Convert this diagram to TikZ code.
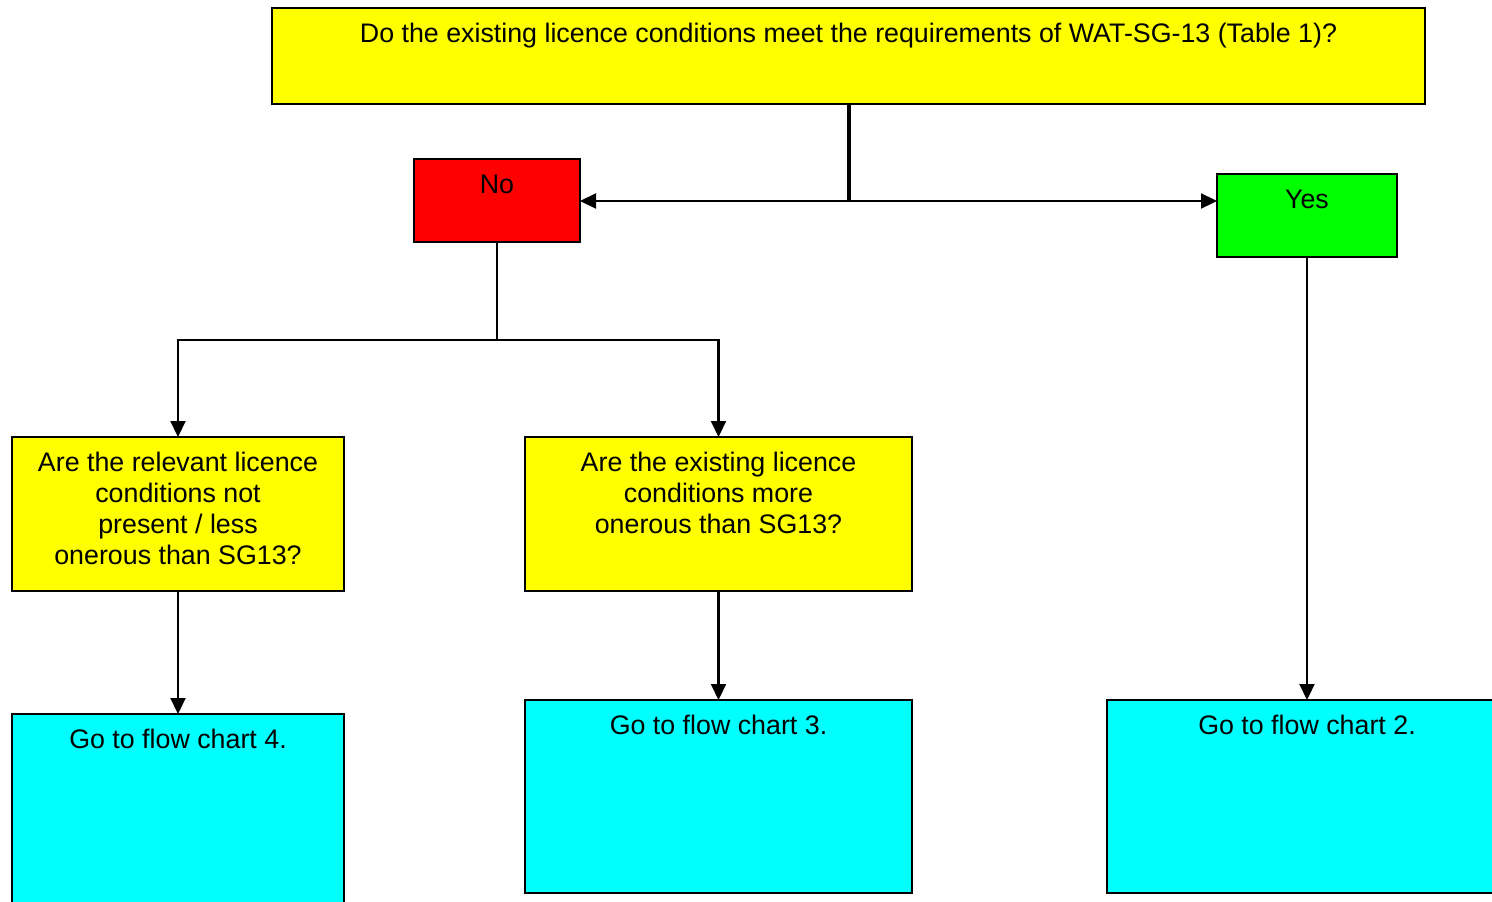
\documentclass[tikz,border=0pt]{standalone}
\usepackage{fontspec}
\setmainfont{Liberation Sans}
\usetikzlibrary{arrows.meta}
\definecolor{cyanbox}{RGB}{0,255,255}
\definecolor{yellowbox}{RGB}{255,255,0}
\definecolor{redbox}{RGB}{255,0,0}
\definecolor{greenbox}{RGB}{0,255,0}
\newcommand\boxtxt[3]{\begin{minipage}[c][#2pt][t]{#1pt}\centering\rule{0pt}{34.6pt}#3\end{minipage}}
\tikzset{
  fbox/.style={draw=black, line width=1.5pt, inner sep=0pt, outer sep=0pt, anchor=north west,
    font=\fontsize{26.8}{31}\selectfont},
  conn/.style={line width=2.2pt, -{Triangle[length=16pt,width=15pt]}},
  plain/.style={line width=2.2pt},
  thick conn/.style={line width=4pt}
}
\begin{document}
\begin{tikzpicture}[x=1pt,y=-1pt]
\clip (0,0) rectangle (1492,902);
\fill[white] (0,0) rectangle (1492,902);
\node[fbox, fill=yellowbox] (q) at (272,8) {\boxtxt{1153}{96}{Do the existing licence conditions meet the requirements of WAT-SG-13 (Table 1)?}};
\node[fbox, fill=redbox] (no) at (414,159) {\boxtxt{166}{83}{No}};
\node[fbox, fill=greenbox] (yes) at (1217,174) {\boxtxt{180}{83}{Yes}};
\node[fbox, fill=yellowbox] (lq) at (12,437) {\boxtxt{332}{154}{Are the relevant licence\\conditions not\\present / less\\onerous than SG13?}};
\node[fbox, fill=yellowbox] (mq) at (525,437) {\boxtxt{387}{154}{Are the existing licence\\conditions more\\onerous than SG13?}};
\node[fbox, fill=cyanbox] (c4) at (12,714) {\boxtxt{332}{200}{Go to flow chart 4.}};
\node[fbox, fill=cyanbox] (c3) at (525,700) {\boxtxt{387}{193}{Go to flow chart 3.}};
\node[fbox, fill=cyanbox] (c2) at (1107,700) {\boxtxt{400}{193}{Go to flow chart 2.}};
\coordinate (j) at (q.south |- 0,201);
\coordinate (s) at (no.south |- 0,340);
\draw[thick conn] (q.south) -- (j);
\draw[conn] (j) -- (no.east |- j);
\draw[conn] (j) -- (yes.west |- j);
\draw[plain] (no.south) -- (s);
\draw[conn] (s) -| (lq.north);
\draw[conn] (s) -| (mq.north);
\draw[conn] (lq.south) -- (c4.north);
\draw[conn] (mq.south) -- (c3.north);
\draw[conn] (yes.south) -- (c2.north -| yes.south);
\end{tikzpicture}
\end{document}
